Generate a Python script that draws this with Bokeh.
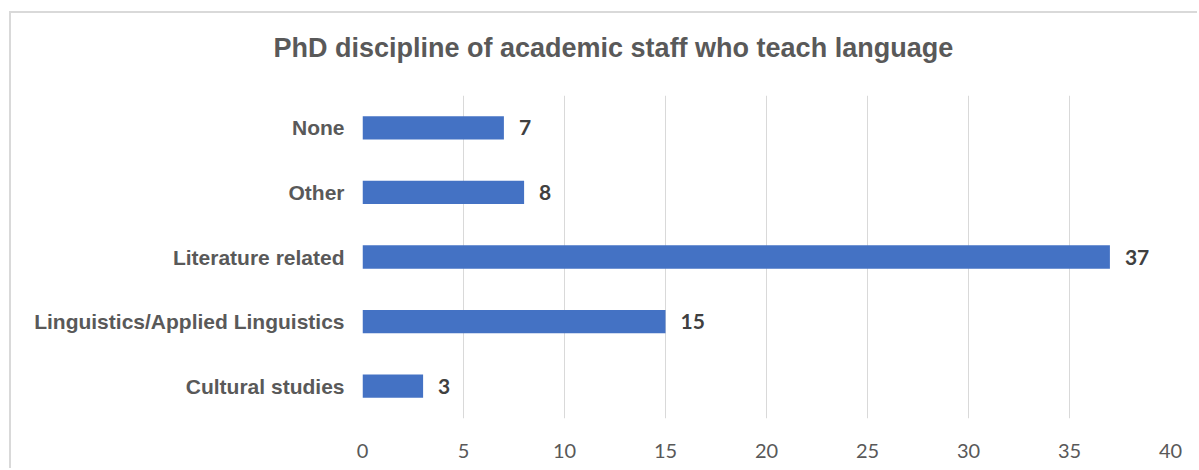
from bokeh.plotting import figure
from bokeh.models import ColumnDataSource, FixedTicker, Title
from bokeh.core.properties import value
from bokeh.embed import file_html
from bokeh.resources import INLINE

title_text = "PhD discipline of academic staff who teach language"
categories = ["Cultural studies", "Linguistics/Applied Linguistics", "Literature related", "Other", "None"]
counts = [3, 15, 37, 8, 7]
x_ticks = [0, 5, 10, 15, 20, 25, 30, 35, 40]

source = ColumnDataSource(dict(cat=categories, val=counts, lbl=[str(v) for v in counts]))

p = figure(width=1188, height=457, y_range=categories, x_range=(0, 40), title=None,
           output_backend="svg", toolbar_location=None,
           min_border_left=351, min_border_right=29, min_border_top=82, min_border_bottom=52)
p.styles = {"margin-left": "9px", "margin-top": "11px",
            "border-left": "2px solid #d9d9d9", "border-top": "2px solid #d9d9d9"}

p.hbar(y="cat", right="val", left=0, height=0.36, source=source,
       fill_color="#4472C4", line_color=None)
p.text(x="val", y="cat", text="lbl", source=source, x_offset=15,
       text_baseline="middle", text_align="left",
       text_font=value("Lato"), text_font_style="bold", text_font_size="21px",
       text_color="#404040")

# spacer between frame and title, then the title itself
spacer = Title(text=" ", text_font_size="1px", standoff=30)
p.add_layout(spacer, "above")
main_title = Title(text=title_text, align="left", offset=-89, standoff=0,
                   text_font="Liberation Sans", text_font_style="bold",
                   text_font_size="27px", text_color="#595959")
p.add_layout(main_title, "above")

p.outline_line_color = None
p.background_fill_color = "white"
p.border_fill_color = "white"

p.xaxis.ticker = FixedTicker(ticks=x_ticks)
p.xaxis.axis_line_color = None
p.xaxis.major_tick_line_color = None
p.xaxis.minor_tick_line_color = None
p.xaxis.major_label_standoff = 19
p.xaxis.major_label_text_font = "Lato"
p.xaxis.major_label_text_font_size = "20px"
p.xaxis.major_label_text_color = "#595959"

p.yaxis.axis_line_color = None
p.yaxis.major_tick_line_color = None
p.yaxis.minor_tick_line_color = None
p.yaxis.major_label_standoff = 12
p.yaxis.major_label_text_font = "Liberation Sans"
p.yaxis.major_label_text_font_style = "bold"
p.yaxis.major_label_text_font_size = "21px"
p.yaxis.major_label_text_color = "#595959"

p.xgrid.grid_line_color = "#d9d9d9"
p.xgrid.grid_line_width = 1
p.ygrid.grid_line_color = None

open("out.html", "w").write(file_html(p, INLINE))
